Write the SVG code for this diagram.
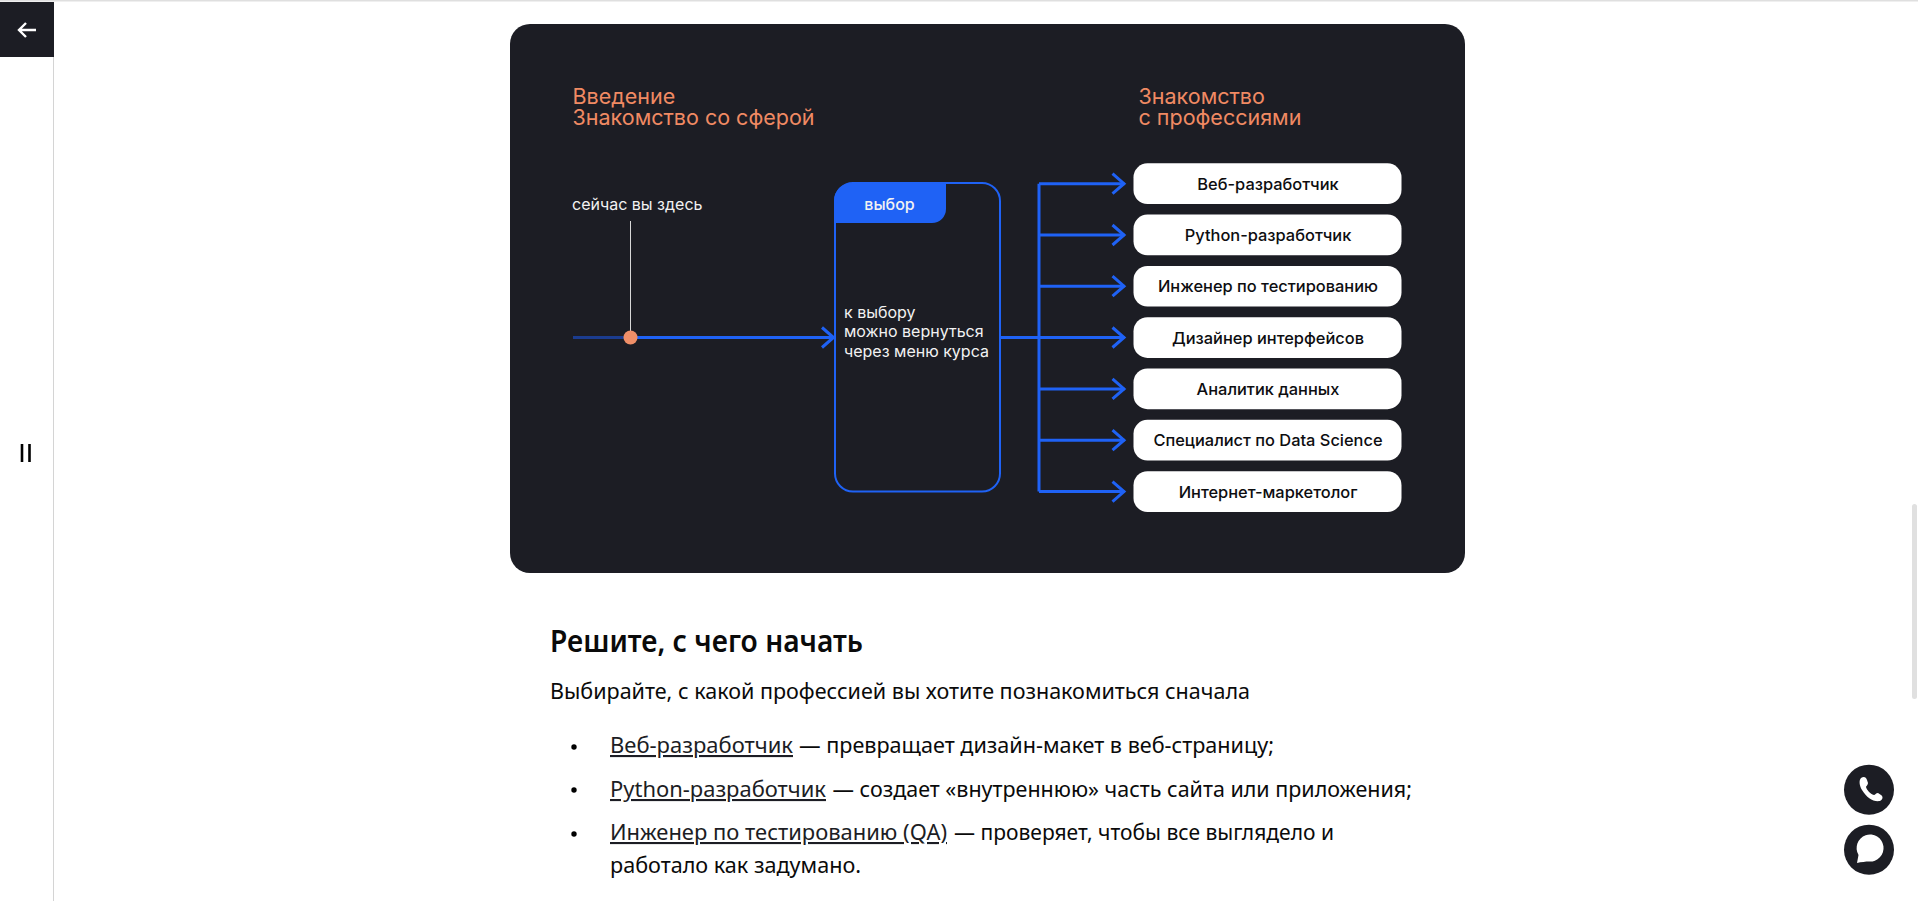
<svg xmlns="http://www.w3.org/2000/svg" width="1918" height="901" viewBox="0 0 1918 901">
<style>
.t{font-family:Inter,"Liberation Sans",sans-serif}
.title{font-size:21.5px;fill:#f08a63}
.lab{font-size:16px;fill:#f2f2f2}
.pill{fill:#fff}
.pt{font-size:16.4px;font-weight:500;fill:#0d0d10;text-anchor:middle}
.conn{fill:none;stroke:#1f62f5;stroke-width:3}
.body{font-family:"Noto Sans","Open Sans",sans-serif;font-size:21px;fill:#0a0a0a}
.lnk{fill:#1c1d24;text-decoration:underline}
</style>
<defs>
<marker id="ah" markerUnits="userSpaceOnUse" markerWidth="16" markerHeight="24" refX="13.5" refY="12" orient="auto" overflow="visible"><path d="M1.5 2L13 12L1.5 22" fill="none" stroke="#1f62f5" stroke-width="3"/></marker>
</defs>
<rect width="1918" height="901" fill="#fff"/>
<g id="page-chrome">
<rect x="0" y="0" width="1918" height="1.5" fill="#dfdfdf"/>
<rect x="53" y="2" width="1" height="899" fill="#d4d4d4"/>
<rect x="0" y="2" width="54" height="55" fill="#1c1d24"/>
<path d="M36 30H19M26 23L19 30L26 37" fill="none" stroke="#fff" stroke-width="2.4"/>
<path d="M22 444V462M29.5 444V462" fill="none" stroke="#000" stroke-width="2.6"/>
<rect x="1912" y="504" width="5" height="195" rx="2.5" fill="#e0e0e0"/>
</g>
<rect id="card" x="510" y="24" width="955" height="549" rx="20" fill="#1c1d24"/>
<g id="connectors">
<line x1="573" y1="337.5" x2="630" y2="337.5" stroke="#1b3c8f" stroke-width="3"/>
<line x1="630" y1="337.5" x2="834" y2="337.5" class="conn" marker-end="url(#ah)"/>
<line x1="630.5" y1="221" x2="630.5" y2="332" stroke="#d8d8d8" stroke-width="1"/>
<path class="conn" d="M1000 337.5H1039"/>
<path class="conn" d="M1039 183.7V491.6"/>
<line class="conn" x1="1039" y1="183.7" x2="1124.5" y2="183.7" marker-end="url(#ah)"/>
<line class="conn" x1="1039" y1="235" x2="1124.5" y2="235" marker-end="url(#ah)"/>
<line class="conn" x1="1039" y1="286.2" x2="1124.5" y2="286.2" marker-end="url(#ah)"/>
<line class="conn" x1="1039" y1="337.5" x2="1124.5" y2="337.5" marker-end="url(#ah)"/>
<line class="conn" x1="1039" y1="388.9" x2="1124.5" y2="388.9" marker-end="url(#ah)"/>
<line class="conn" x1="1039" y1="440.2" x2="1124.5" y2="440.2" marker-end="url(#ah)"/>
<line class="conn" x1="1039" y1="491.6" x2="1124.5" y2="491.6" marker-end="url(#ah)"/>
</g>
<g id="titles" class="t">
<text class="title t" x="572.5" y="104">Введение</text>
<text class="title t" x="572.5" y="125">Знакомство со сферой</text>
<text class="title t" x="1138.5" y="104">Знакомство</text>
<text class="title t" x="1138.5" y="125">с профессиями</text>
</g>
<g id="here-marker">
<text class="lab t" x="572" y="210">сейчас вы здесь</text>
<circle cx="630.5" cy="337.5" r="7" fill="#f08f68"/>
</g>
<g id="choice-box">
<rect x="835" y="183" width="165" height="308.5" rx="18" fill="none" stroke="#1f62f5" stroke-width="2"/>
<path d="M834 223V201A18 18 0 0 1 852 183H946V209A14 14 0 0 1 932 223Z" fill="#1f62f5"/>
<text class="lab t" x="889.5" y="209.5" text-anchor="middle" font-weight="500" fill="#fff">выбор</text>
<text class="lab t" x="844" y="318">к выбору</text>
<text class="lab t" x="844" y="337">можно вернуться</text>
<text class="lab t" x="844" y="356.5">через меню курса</text>
</g>
<g id="n1"><rect class="pill" x="1133.5" y="163.3" width="268" height="40.7" rx="14"/><text class="pt t" x="1268" y="189.6">Веб-разработчик</text></g>
<g id="n2"><rect class="pill" x="1133.5" y="214.6" width="268" height="40.7" rx="14"/><text class="pt t" x="1268" y="240.9">Python-разработчик</text></g>
<g id="n3"><rect class="pill" x="1133.5" y="265.9" width="268" height="40.7" rx="14"/><text class="pt t" x="1268" y="292.2">Инженер по тестированию</text></g>
<g id="n4"><rect class="pill" x="1133.5" y="317.2" width="268" height="40.7" rx="14"/><text class="pt t" x="1268" y="343.5">Дизайнер интерфейсов</text></g>
<g id="n5"><rect class="pill" x="1133.5" y="368.5" width="268" height="40.7" rx="14"/><text class="pt t" x="1268" y="394.8">Аналитик данных</text></g>
<g id="n6"><rect class="pill" x="1133.5" y="419.8" width="268" height="40.7" rx="14"/><text class="pt t" x="1268" y="446.1">Специалист по Data Science</text></g>
<g id="n7"><rect class="pill" x="1133.5" y="471.2" width="268" height="40.7" rx="14"/><text class="pt t" x="1268" y="497.5">Интернет-маркетолог</text></g>
<g id="article">
<text class="body" x="550" y="652" font-weight="600" style="font-size:30px" textLength="313" lengthAdjust="spacingAndGlyphs">Решите, с чего начать</text>
<text class="body" x="550" y="699" textLength="700" lengthAdjust="spacingAndGlyphs">Выбирайте, с какой профессией вы хотите познакомиться сначала</text>
<circle cx="574" cy="747" r="2.7" fill="#000"/><circle cx="574" cy="790" r="2.7" fill="#000"/><circle cx="574" cy="834" r="2.7" fill="#000"/>
<text class="body lnk" x="610" y="753" textLength="183" lengthAdjust="spacingAndGlyphs">Веб-разработчик</text>
<text class="body" x="799" y="753" textLength="475" lengthAdjust="spacingAndGlyphs">— превращает дизайн-макет в веб-страницу;</text>
<text class="body lnk" x="610" y="797" textLength="216" lengthAdjust="spacingAndGlyphs">Python-разработчик</text>
<text class="body" x="832.5" y="797" textLength="579.5" lengthAdjust="spacingAndGlyphs">— создает «внутреннюю» часть сайта или приложения;</text>
<text class="body lnk" x="610" y="840" textLength="337" lengthAdjust="spacingAndGlyphs">Инженер по тестированию (QA)</text>
<text class="body" x="954" y="840" textLength="380" lengthAdjust="spacingAndGlyphs">— проверяет, чтобы все выглядело и</text>
<text class="body" x="610" y="873" textLength="251" lengthAdjust="spacingAndGlyphs">работало как задумано.</text>
</g>
<g id="phone-button">
<circle cx="1869" cy="789.7" r="25" fill="#1c1d24"/>
<path d="M1861 778C1864 776 1866 777 1867 780L1868 783C1868 785 1866 786 1866 787C1867 790 1870 794 1874 795C1875 795 1876 793 1878 793L1881 795C1884 797 1882 800 1880 801C1873 802 1867 798 1862 790C1859 785 1859 780 1861 778Z" fill="#fff"/>
</g>
<g id="chat-button">
<circle cx="1869" cy="849.7" r="25" fill="#1c1d24"/>
<path d="M1857 863L1858.5 855A13.5 13.5 0 1 1 1869 861.5C1866 861.5 1861 862 1857 863Z" fill="#fff"/>
</g>
</svg>
